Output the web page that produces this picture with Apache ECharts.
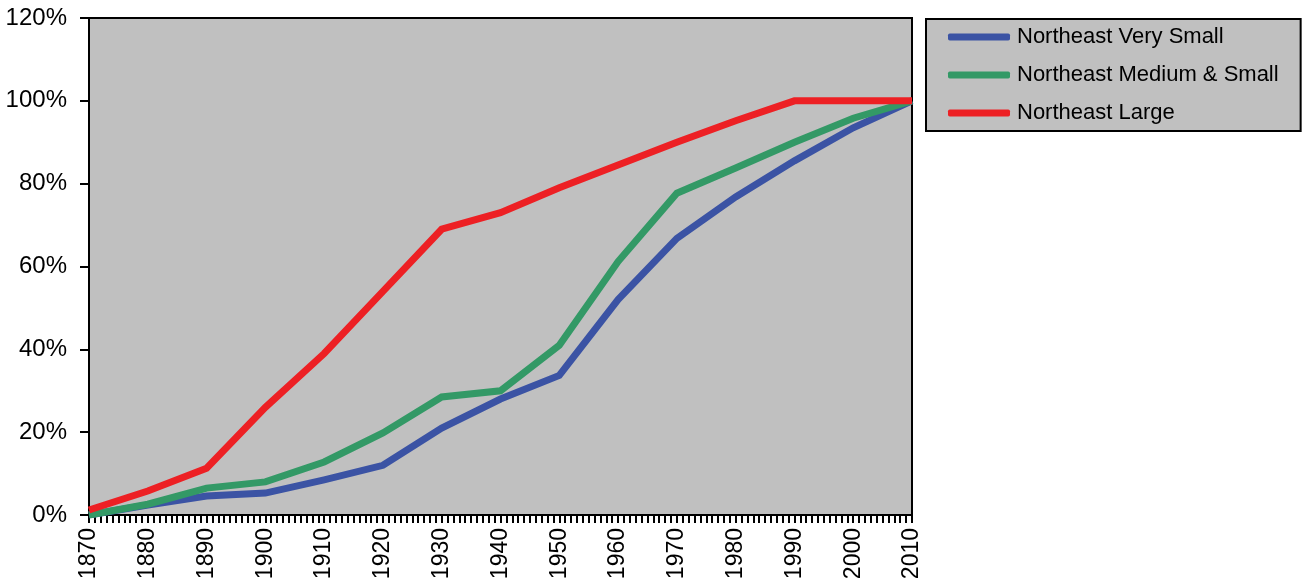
<!DOCTYPE html>
<html>
<head>
<meta charset="utf-8">
<title>Northeast</title>
<script src="https://cdn.jsdelivr.net/npm/echarts@6/dist/echarts.min.js"></script>
<style>
  html, body { margin: 0; padding: 0; background: #fff; }
  #chart { width: 1304px; height: 584px; }
</style>
</head>
<body>
<div id="chart"></div>
<script>
// decades on the x axis
var years = [1870, 1880, 1890, 1900, 1910, 1920, 1930, 1940, 1950, 1960, 1970, 1980, 1990, 2000, 2010];

// shares (fraction of 1)
var verySmall = [0, 0.024, 0.046, 0.053, 0.085, 0.12, 0.21, 0.28, 0.337, 0.52, 0.668, 0.768, 0.855, 0.935, 1.0];
var mediumSmall = [0, 0.026, 0.065, 0.08, 0.128, 0.198, 0.285, 0.30, 0.41, 0.612, 0.777, 0.838, 0.90, 0.958, 1.0];
var large = [0.012, 0.058, 0.113, 0.26, 0.39, 0.54, 0.69, 0.73, 0.79, 0.845, 0.90, 0.952, 1.0, 1.0, 1.0];

var seriesNames = ['Northeast Very Small', 'Northeast Medium & Small', 'Northeast Large'];
var seriesColors = ['#3B53A4', '#339966', '#ED2024'];

function pairs(vals) {
    var out = [];
    for (var i = 0; i < years.length; i++) {
        out.push([years[i], vals[i]]);
    }
    return out;
}

var font = 'Liberation Sans, Arial, sans-serif';
var chart = echarts.init(document.getElementById('chart'));

var lines = [verySmall, mediumSmall, large].map(function (vals, i) {
    return {
        name: seriesNames[i],
        type: 'line',
        data: pairs(vals),
        symbol: 'none',
        color: seriesColors[i],
        lineStyle: { width: 7, color: seriesColors[i], cap: 'butt', join: 'miter' },
        animation: false
    };
});

chart.setOption({
    animation: false,
    grid: {
        left: 89, right: 392, top: 18, bottom: 69,
        show: true,
        backgroundColor: '#C0C0C0',
        borderColor: '#000',
        borderWidth: 2
    },
    legend: {
        orient: 'vertical',
        left: 926, top: 19,
        padding: [7, 22, 7, 22],
        itemGap: 16,
        itemWidth: 62,
        itemHeight: 7,
        icon: 'roundRect',
        backgroundColor: '#C0C0C0',
        borderColor: '#000',
        borderWidth: 2,
        textStyle: { fontFamily: font, fontSize: 22, color: '#000', padding: [0, 0, 0, 2] },
        data: seriesNames
    },
    xAxis: {
        type: 'value',
        min: 1870, max: 2010, interval: 10,
        splitLine: { show: false },
        axisLine: { show: true, lineStyle: { color: '#000', width: 2 } },
        axisTick: { show: true, length: 8, lineStyle: { color: '#000', width: 2 } },
        minorTick: { show: true, splitNumber: 10, length: 8, lineStyle: { color: '#000', width: 2 } },
        axisLabel: {
            rotate: 90, margin: 13,
            fontFamily: font, fontSize: 23, color: '#000',
            formatter: function (v) { return String(v); }
        }
    },
    yAxis: {
        type: 'value',
        min: 0, max: 1.2, interval: 0.2,
        splitLine: { show: false },
        axisLine: { show: true, lineStyle: { color: '#000', width: 2 } },
        axisTick: { show: true, length: 9, lineStyle: { color: '#000', width: 2 } },
        axisLabel: {
            margin: 22,
            fontFamily: font, fontSize: 24, color: '#000',
            formatter: function (v) { return Math.round(v * 100) + '%'; }
        }
    },
    series: lines
});
</script>
</body>
</html>
